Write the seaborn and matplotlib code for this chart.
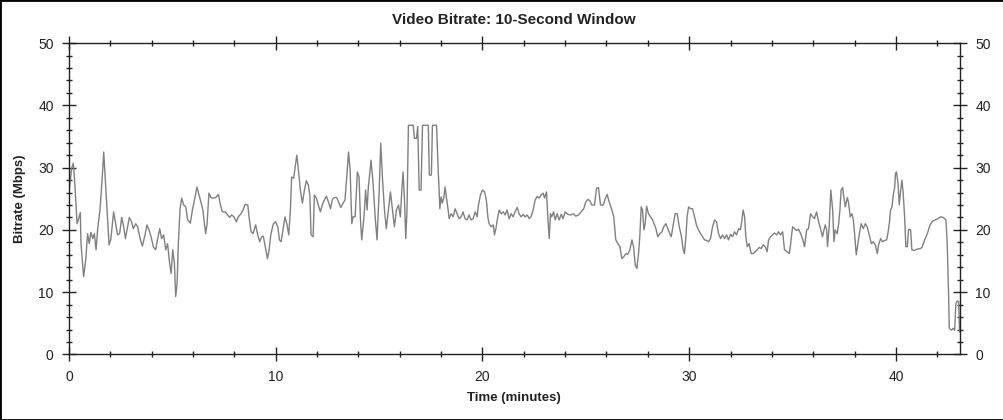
import matplotlib
matplotlib.use("Agg")
import matplotlib.pyplot as plt
import seaborn as sns
import pandas as pd
from matplotlib.ticker import MultipleLocator
from matplotlib.patches import Rectangle

# (minutes, Mbps), one list per stretch of the film
seg_opening = [
    (0.0, 26.0), (0.13, 29.9), (0.21, 30.7), (0.26, 28.5), (0.32, 25.3), (0.39, 21.0),
    (0.45, 21.6), (0.55, 22.8), (0.58, 17.8), (0.71, 12.5), (0.81, 15.2), (0.90, 19.4),
    (0.98, 17.8), (1.06, 19.6), (1.15, 18.6), (1.23, 19.4), (1.31, 16.8), (1.39, 20.2),
    (1.50, 23.2), (1.61, 28.5), (1.68, 32.5), (1.74, 29.0), (1.84, 23.2), (1.94, 17.6),
    (2.02, 18.4), (2.16, 22.9), (2.26, 21.0), (2.35, 19.2), (2.45, 19.4), (2.55, 22.0),
    (2.63, 20.8), (2.73, 18.6), (2.82, 20.2), (2.92, 22.0), (3.03, 21.3), (3.11, 20.2),
    (3.23, 21.0), (3.32, 20.5), (3.44, 18.6), (3.55, 17.4), (3.68, 19.2), (3.77, 20.8),
    (3.87, 20.0), (3.97, 18.9), (4.08, 17.3), (4.19, 16.8), (4.29, 18.6), (4.39, 20.2),
    (4.48, 18.6), (4.58, 19.2), (4.68, 16.8), (4.77, 17.8), (4.87, 14.6), (4.94, 13.0),
    (5.02, 16.8), (5.10, 14.6), (5.16, 9.3), (5.23, 11.4), (5.29, 17.8), (5.37, 23.2),
    (5.45, 25.1), (5.55, 24.0), (5.65, 23.7), (5.74, 21.6), (5.87, 21.1), (5.97, 23.2),
    (6.10, 25.3), (6.19, 26.9), (6.29, 25.6), (6.39, 24.3), (6.48, 23.2), (6.55, 21.0),
    (6.61, 19.4), (6.68, 21.0), (6.77, 25.9), (6.87, 25.2), (6.98, 25.1), (7.10, 25.2),
    (7.23, 25.7), (7.32, 24.1), (7.42, 22.9), (7.55, 22.9), (7.68, 22.4), (7.77, 22.0),
    (7.87, 22.4), (7.98, 22.1), (8.10, 21.3), (8.19, 22.1), (8.32, 22.6), (8.42, 23.2),
    (8.52, 24.1),
]

seg_middle = [
    (8.65, 24.0), (8.71, 22.1), (8.81, 19.7), (8.90, 19.4), (9.03, 20.8), (9.13, 19.2),
    (9.23, 18.1), (9.32, 18.9), (9.40, 19.0), (9.48, 17.6), (9.60, 15.4), (9.68, 16.8),
    (9.77, 19.4), (9.89, 21.0), (10.0, 21.3), (10.10, 20.5), (10.18, 18.4), (10.26, 18.1),
    (10.35, 20.0), (10.45, 22.1), (10.55, 20.8), (10.63, 19.2), (10.71, 23.2), (10.77, 28.5),
    (10.87, 28.3), (10.94, 30.1), (11.02, 32.0), (11.10, 29.6), (11.19, 26.4), (11.29, 24.3),
    (11.39, 26.4), (11.48, 27.9), (11.58, 27.2), (11.65, 25.6), (11.71, 19.2), (11.81, 18.9),
    (11.87, 25.6), (11.97, 25.1), (12.06, 24.0), (12.16, 22.9), (12.26, 24.1), (12.35, 24.8),
    (12.45, 25.4), (12.55, 24.5), (12.65, 23.4), (12.74, 24.9), (12.84, 25.2), (12.95, 25.2),
    (13.06, 24.3), (13.15, 23.6), (13.26, 24.3), (13.35, 24.8), (13.45, 29.1), (13.52, 32.5),
    (13.60, 29.6), (13.68, 21.0), (13.74, 22.1), (13.84, 22.1), (13.95, 29.3), (14.03, 28.5),
    (14.10, 21.6), (14.16, 18.4), (14.27, 22.1), (14.35, 26.4), (14.42, 23.2), (14.48, 26.9),
    (14.55, 29.1), (14.61, 31.2), (14.71, 27.5), (14.81, 22.1), (14.90, 18.4), (15.00, 25.9),
    (15.08, 33.9), (15.16, 28.5), (15.26, 23.2), (15.35, 20.2), (15.45, 23.2), (15.55, 26.1),
    (15.65, 23.2), (15.74, 20.5), (15.84, 23.2), (15.94, 24.0), (16.03, 22.1), (16.10, 26.4),
    (16.16, 29.3), (16.23, 24.8), (16.29, 18.6), (16.35, 23.2),
]

seg_peak = [
    (16.42, 36.8), (16.55, 36.8), (16.65, 36.8), (16.71, 34.7), (16.81, 34.7), (16.87, 36.6),
    (16.94, 26.4), (17.03, 26.4), (17.10, 36.8), (17.23, 36.8), (17.38, 36.8), (17.43, 28.8),
    (17.53, 28.8), (17.58, 36.8), (17.78, 36.8), (17.84, 31.2), (17.94, 23.4), (18.00, 25.3),
    (18.06, 24.3), (18.13, 25.1), (18.19, 26.9), (18.26, 25.1), (18.32, 23.7), (18.39, 21.8),
    (18.48, 22.6), (18.58, 22.1), (18.68, 23.4), (18.77, 22.6), (18.87, 21.8), (18.97, 22.1),
    (19.06, 22.9), (19.16, 21.8), (19.26, 21.6), (19.35, 22.4), (19.45, 21.6), (19.55, 21.8),
    (19.65, 22.9), (19.74, 22.1), (19.81, 24.0), (19.90, 25.6), (20.00, 26.4), (20.10, 26.1),
    (20.19, 24.8), (20.26, 22.1), (20.32, 21.0), (20.42, 20.5), (20.52, 20.8), (20.58, 19.2),
    (20.65, 20.2), (20.74, 22.1), (20.81, 23.2), (20.90, 22.6), (21.00, 22.9), (21.10, 22.4),
    (21.19, 23.2), (21.29, 21.8), (21.39, 22.6), (21.48, 22.1), (21.58, 22.9), (21.68, 23.6),
    (21.77, 22.6), (21.87, 22.1), (21.97, 22.5), (22.06, 22.1), (22.16, 22.4), (22.26, 21.8),
    (22.35, 22.1), (22.45, 23.2), (22.55, 24.8), (22.65, 25.4), (22.74, 25.1), (22.84, 25.6),
    (22.94, 25.9), (23.00, 25.1), (23.10, 26.1), (23.16, 22.1), (23.23, 18.6), (23.29, 22.6),
    (23.35, 22.1), (23.44, 22.9), (23.52, 21.6), (23.61, 22.6), (23.71, 21.6), (23.81, 22.5),
    (23.90, 21.8), (24.00, 22.9), (24.13, 22.5), (24.26, 22.4), (24.39, 22.6), (24.52, 22.2),
    (24.65, 22.4), (24.77, 22.9), (24.90, 23.4), (25.00, 24.5), (25.10, 24.9), (25.19, 24.7),
    (25.29, 24.0), (25.42, 24.0), (25.52, 26.7), (25.61, 26.8), (25.71, 24.0), (25.84, 24.0),
    (25.94, 25.0),
]

seg_late = [
    (26.03, 25.7), (26.13, 24.5), (26.26, 23.2), (26.35, 22.1), (26.45, 18.4), (26.55, 17.8),
    (26.65, 17.3), (26.74, 15.4), (26.84, 15.7), (26.94, 16.2), (27.03, 16.1), (27.13, 16.8),
    (27.23, 18.4), (27.31, 17.3), (27.39, 14.4), (27.47, 13.8), (27.55, 16.2), (27.61, 18.9),
    (27.68, 23.7), (27.74, 23.2), (27.81, 20.0), (27.87, 21.0), (27.94, 23.8), (28.03, 22.6),
    (28.13, 22.1), (28.23, 21.6), (28.32, 20.8), (28.39, 20.2), (28.48, 18.9), (28.58, 19.4),
    (28.68, 19.7), (28.77, 20.5), (28.87, 21.0), (28.97, 20.2), (29.06, 19.4), (29.13, 18.9),
    (29.23, 20.8), (29.32, 22.6), (29.42, 22.6), (29.52, 20.5), (29.61, 19.2), (29.71, 16.8),
    (29.77, 16.2), (29.84, 18.9), (29.90, 22.1), (29.97, 23.7), (30.06, 23.4), (30.16, 23.4),
    (30.26, 22.1), (30.35, 20.8), (30.45, 20.0), (30.55, 19.4), (30.65, 18.9), (30.74, 18.4),
    (30.84, 18.3), (30.94, 18.1), (31.03, 18.6), (31.13, 20.5), (31.23, 21.6), (31.32, 21.3),
    (31.42, 19.4), (31.52, 18.6), (31.61, 19.2), (31.71, 18.6), (31.81, 19.2), (31.90, 18.4),
    (32.00, 19.3), (32.10, 18.9), (32.19, 19.7), (32.29, 19.2), (32.39, 20.2), (32.48, 20.0),
    (32.55, 21.6), (32.61, 23.2), (32.68, 22.1), (32.74, 18.9), (32.81, 17.3), (32.90, 17.8),
    (33.00, 16.2), (33.10, 16.2), (33.19, 16.5), (33.29, 16.8), (33.39, 17.2), (33.48, 17.0),
    (33.58, 17.6), (33.68, 17.3), (33.77, 16.5), (33.84, 18.4), (33.94, 18.9), (34.03, 19.2),
    (34.13, 19.5), (34.23, 19.2), (34.32, 19.7), (34.42, 19.2), (34.52, 19.7), (34.61, 16.8),
]

seg_closing = [
    (34.74, 16.5), (34.84, 16.2), (34.90, 17.6), (35.00, 20.5), (35.10, 20.2), (35.19, 19.9),
    (35.29, 20.1), (35.39, 19.4), (35.48, 18.6), (35.58, 17.3), (35.68, 20.0), (35.77, 20.2),
    (35.87, 22.6), (35.97, 22.1), (36.06, 21.8), (36.16, 22.9), (36.26, 21.3), (36.35, 20.2),
    (36.45, 18.9), (36.52, 20.0), (36.58, 20.8), (36.65, 20.0), (36.69, 17.3), (36.77, 20.5),
    (36.85, 26.4), (36.94, 23.2), (37.00, 18.1), (37.06, 20.0), (37.16, 19.4), (37.23, 21.0),
    (37.29, 23.2), (37.35, 26.4), (37.42, 26.8), (37.48, 25.3), (37.55, 23.7), (37.65, 25.2),
    (37.71, 24.3), (37.79, 22.1), (37.87, 22.6), (37.94, 21.6), (38.00, 19.4), (38.08, 16.0),
    (38.16, 17.8), (38.26, 20.0), (38.32, 21.0), (38.42, 20.2), (38.52, 21.0), (38.61, 20.5),
    (38.71, 19.2), (38.81, 17.8), (38.90, 18.1), (39.00, 17.6), (39.10, 16.2), (39.16, 17.6),
    (39.26, 18.6), (39.35, 18.1), (39.45, 18.3), (39.55, 18.4), (39.61, 19.4), (39.68, 21.0),
    (39.74, 23.2), (39.81, 23.7), (39.87, 25.6), (39.94, 26.9), (39.98, 29.1), (40.03, 29.3),
    (40.10, 27.5), (40.16, 24.0), (40.23, 26.4), (40.29, 28.0), (40.35, 25.9), (40.42, 22.1),
    (40.48, 17.3), (40.55, 17.3), (40.61, 20.1), (40.71, 20.0), (40.77, 16.8), (40.87, 16.7),
    (41.02, 16.9), (41.18, 17.0), (41.26, 17.2), (41.39, 18.4), (41.52, 19.4), (41.65, 20.8),
    (41.77, 21.4), (41.90, 21.6), (42.03, 21.8), (42.16, 22.1), (42.29, 22.0), (42.42, 21.6),
    (42.48, 17.8), (42.55, 9.3), (42.58, 4.2), (42.68, 3.9), (42.77, 4.2), (42.84, 3.9),
    (42.90, 8.2), (42.97, 8.6), (43.03, 8.5), (43.08, 3.6),
]

sns.set_theme(style="ticks")
plt.rcParams['font.family'] = ['Liberation Sans', 'DejaVu Sans']

df = pd.DataFrame(seg_opening + seg_middle + seg_peak + seg_late + seg_closing,
                  columns=["minutes", "mbps"])

fig = plt.figure(figsize=(10.04, 4.2), dpi=100)
ax = fig.add_axes([0.0687, 0.156, 0.8875, 0.7415])
sns.lineplot(data=df, x="minutes", y="mbps", ax=ax, color="#808080",
             linewidth=1.0, estimator=None, sort=False)

ax.set_xlim(0, 43.1)
ax.set_ylim(0, 50)
ax.xaxis.set_major_locator(MultipleLocator(10))
ax.xaxis.set_minor_locator(MultipleLocator(2))
ax.yaxis.set_major_locator(MultipleLocator(10))
ax.yaxis.set_minor_locator(MultipleLocator(2))
ax.tick_params(which="both", direction="inout", top=True, right=True,
               labelright=True, labelsize=10, colors="#222222", pad=6)
ax.tick_params(which="major", length=10, width=1)
ax.tick_params(which="minor", length=5, width=1)
for sp in ax.spines.values():
    sp.set_color("#222222")
    sp.set_linewidth(1)
ax.set_xlabel("")
ax.set_ylabel("")

fig.text(0.512, 0.952, "Video Bitrate: 10-Second Window", ha="center", va="center",
         fontsize=11, fontweight="bold", color="#222222")
fig.text(0.512, 0.052, "Time (minutes)", ha="center", va="center",
         fontsize=9.5, fontweight="bold", color="#222222")
fig.text(0.020, 0.527, "Bitrate (Mbps)", ha="center", va="center", rotation=90,
         fontsize=9.5, fontweight="bold", color="#222222")

# frame round the whole picture
fig.add_artist(Rectangle((0, 0), 1, 1, transform=fig.transFigure, fill=False,
                         edgecolor="black", linewidth=2))

fig.savefig("out.png", dpi=100)
